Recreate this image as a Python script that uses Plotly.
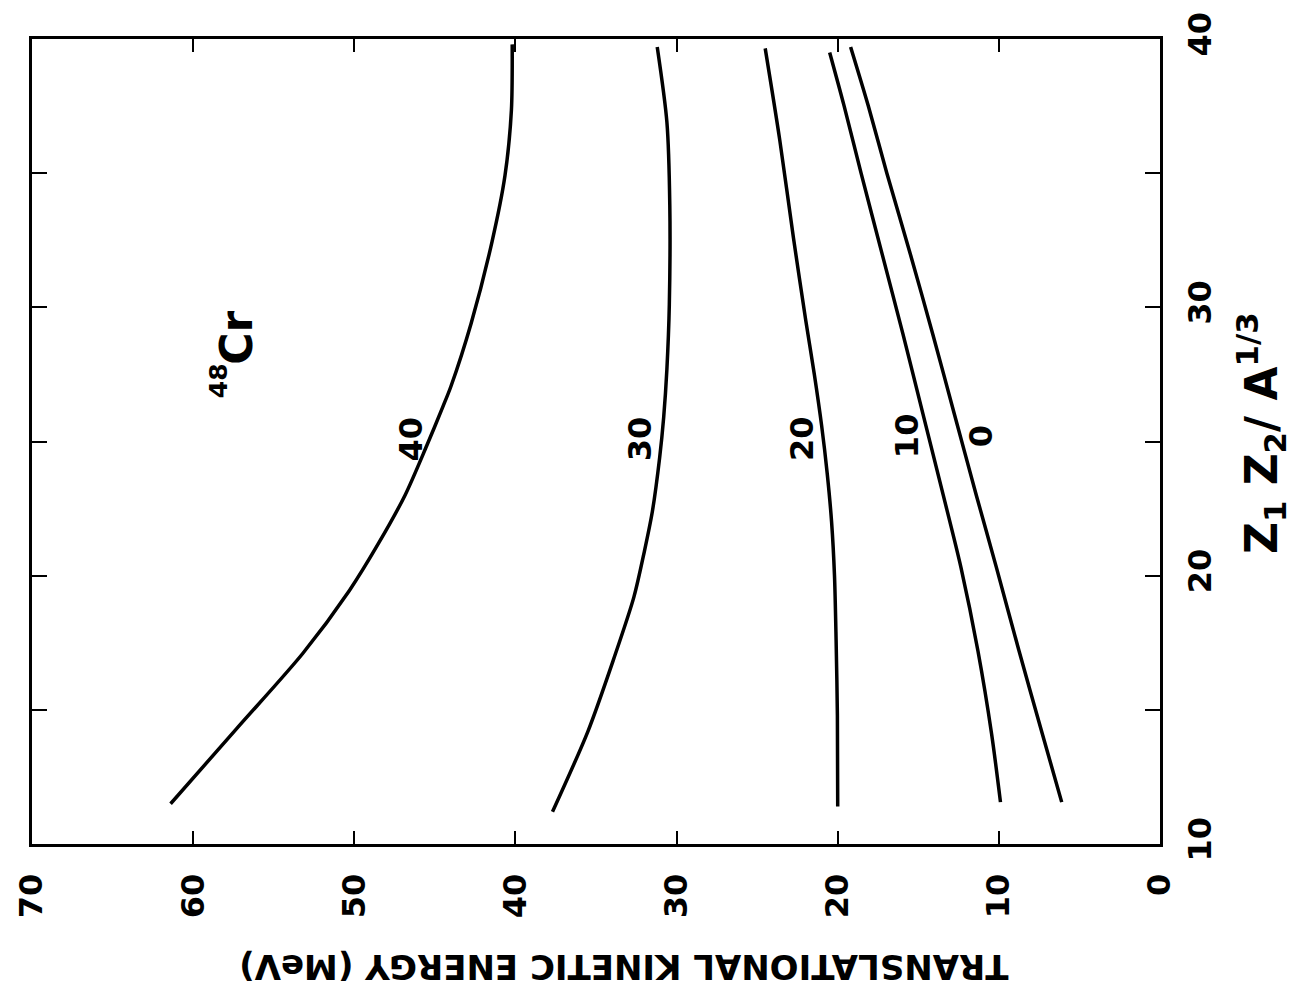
import plotly.graph_objects as go

# Z1*Z2/A^(1/3) (vertical axis) and translational kinetic energy in MeV (horizontal axis)
# for each curve, labelled by its parameter value.
z_l40 = [11.5, 14.3, 17.1, 19.45, 21.2, 23.0, 24.85, 26.3, 27.06, 29.4, 32.45, 34.9, 37.35, 39.8]
e_l40 = [61.4, 57.3, 53.2, 50.3, 48.5, 46.85, 45.5, 44.5, 44.0, 42.75, 41.45, 40.65, 40.25, 40.2]

z_l30 = [11.2, 14.2, 16.9, 19.2, 20.9, 22.4, 24.4, 25.9, 27.7, 30.1, 33.8, 36.9, 39.7]
e_l30 = [37.7, 35.5, 33.9, 32.65, 32.0, 31.5, 31.05, 30.8, 30.6, 30.45, 30.42, 30.6, 31.2]

z_l20 = [11.4, 14.8, 17.6, 20.0, 22.0, 23.8, 25.6, 27.5, 29.5, 32.6, 36.25, 39.65]
e_l20 = [20.0, 20.02, 20.1, 20.2, 20.38, 20.65, 21.0, 21.45, 21.98, 22.75, 23.6, 24.5]

z_l10 = [11.56, 14.1, 17.2, 20.3, 23.0, 26.0, 29.0, 32.0, 35.0, 37.5, 39.5]
e_l10 = [9.9, 10.45, 11.3, 12.35, 13.45, 14.7, 15.95, 17.25, 18.55, 19.6, 20.5]

z_l0 = [11.56, 14.1, 17.2, 20.3, 23.0, 26.0, 29.0, 32.0, 35.0, 37.5, 39.7]
e_l0 = [6.1, 7.3, 8.75, 10.15, 11.4, 12.75, 14.1, 15.5, 16.95, 18.1, 19.2]

curve_labels = ["40", "30", "20", "10", "0"]
label_e = [46.5, 32.3, 22.2, 15.7, 11.1]
label_z = [25.1, 25.1, 25.1, 25.2, 25.2]

energy_ticks = [0, 10, 20, 30, 40, 50, 60, 70]
z_ticks = [10, 20, 30, 40]

FONT = "DejaVu Sans"

fig = go.Figure()
for z, e in [(z_l40, e_l40), (z_l30, e_l30), (z_l20, e_l20), (z_l10, e_l10), (z_l0, e_l0)]:
    fig.add_trace(go.Scatter(x=e, y=z, mode="lines",
                             line=dict(color="black", width=3.5, shape="spline", smoothing=0.8),
                             showlegend=False, hoverinfo="skip"))

annotations = []
for txt, e, z in zip(curve_labels, label_e, label_z):
    annotations.append(dict(x=e, y=z, xref="x", yref="y", text=txt, showarrow=False,
                            textangle=-90, xanchor="center", yanchor="middle",
                            font=dict(family=FONT, size=32, color="black", weight="bold")))

# nucleus label
annotations.append(dict(x=57.3, y=28.85, xref="x", yref="y", text="Cr", showarrow=False,
                        textangle=-90, xanchor="center", yanchor="middle",
                        font=dict(family=FONT, size=44, color="black", weight="bold")))
annotations.append(dict(x=58.45, y=27.25, xref="x", yref="y", text="48", showarrow=False,
                        textangle=-90, xanchor="center", yanchor="middle",
                        font=dict(family=FONT, size=25, color="black", weight="bold")))

# axis titles, drawn rotated
annotations.append(dict(x=0.525, y=-0.152, xref="paper", yref="paper",
                        text="TRANSLATIONAL KINETIC ENERGY (MeV)", showarrow=False,
                        textangle=180, xanchor="center", yanchor="middle",
                        font=dict(family=FONT, size=34, color="black", weight="bold")))
annotations.append(dict(x=1.09, y=0.51, xref="paper", yref="paper",
                        text="Z<sub>1</sub> Z<sub>2</sub>/ A<sup>1/3</sup>", showarrow=False,
                        textangle=-90, xanchor="center", yanchor="middle",
                        font=dict(family=FONT, size=44, color="black", weight="bold")))

fig.update_layout(
    width=1294, height=993,
    margin=dict(l=23, r=134, t=28, b=149),
    paper_bgcolor="white", plot_bgcolor="white",
    annotations=annotations,
    xaxis=dict(range=[70, 0], tickvals=energy_ticks, ticks="inside", ticklen=13,
               tickwidth=2, tickcolor="black", showline=True, linewidth=3, linecolor="black",
               mirror="ticks", showgrid=False, zeroline=False, tickangle=-90,
               ticklabelstandoff=14,
               tickfont=dict(family=FONT, size=32, color="black", weight="bold")),
    yaxis=dict(range=[10, 40], side="right", tickvals=z_ticks,
               ticks="inside", ticklen=15, tickwidth=2, tickcolor="black",
               minor=dict(dtick=5, ticks="inside", ticklen=15, tickwidth=2,
                          tickcolor="black", showgrid=False),
               showline=True, linewidth=3, linecolor="black", mirror="ticks",
               showgrid=False, zeroline=False, tickangle=-90, ticklabelstandoff=10,
               tickfont=dict(family=FONT, size=32, color="black", weight="bold")),
)

fig.write_html("out.html")
